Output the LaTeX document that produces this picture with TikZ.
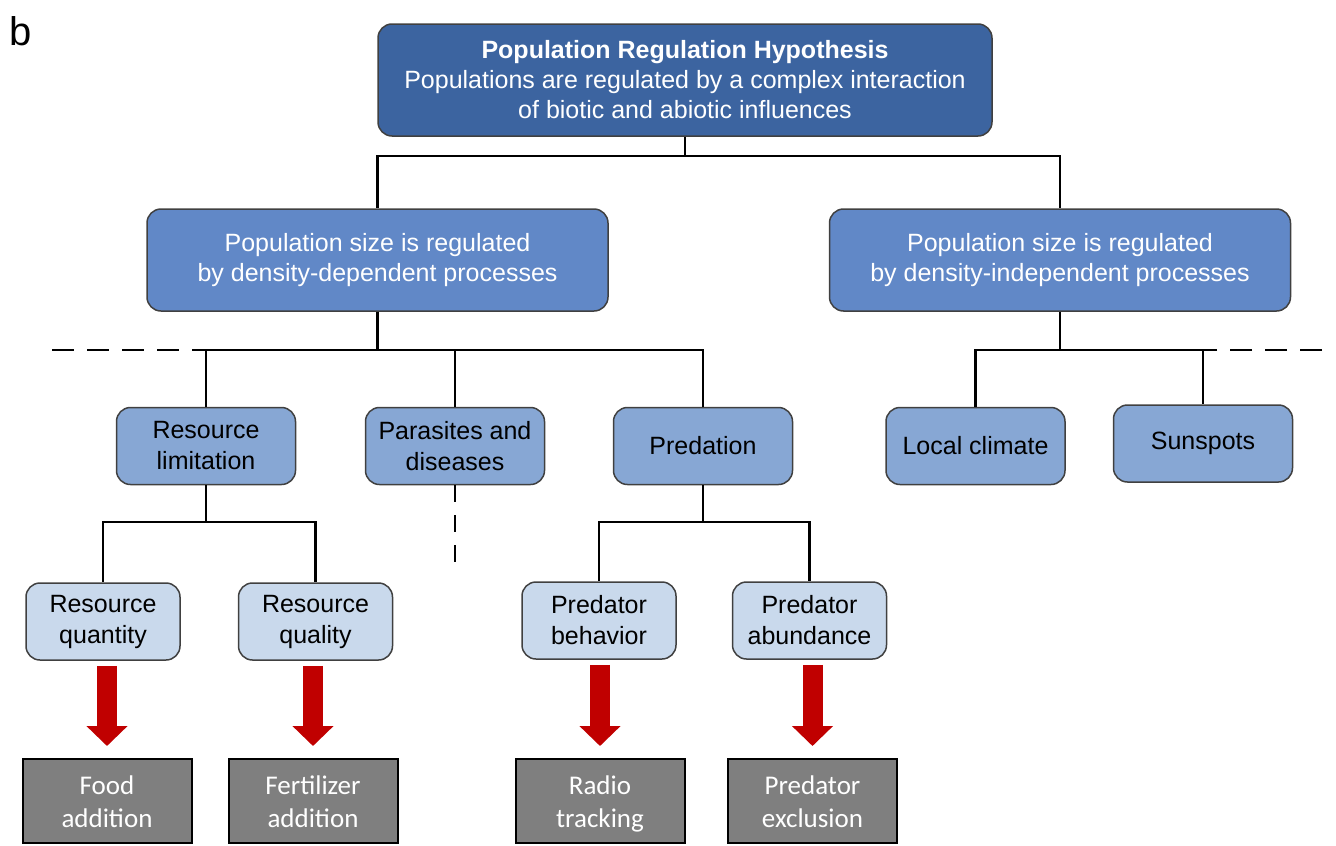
\documentclass[tikz,border=0pt]{standalone}
\usepackage{fontspec}
\setmainfont{Liberation Sans}
\newfontfamily\calibri{Carlito}
\usepackage{xcolor}
\usepackage{tikz}
\usetikzlibrary{arrows.meta}
\usetikzlibrary{positioning}

\definecolor{hypoblue}{HTML}{3C64A0}
\definecolor{procblue}{HTML}{6188C7}
\definecolor{factblue}{HTML}{87A7D4}
\definecolor{subblue}{HTML}{C9D9EC}
\definecolor{testgray}{HTML}{7F7F7F}
\definecolor{arrowred}{HTML}{C00000}

\begin{document}
\begin{tikzpicture}[x=1pt, y=-1pt,
        hypobox/.style={draw=black!75, line width=1.5pt, rounded corners=14pt, fill=hypoblue,
            text=white, align=center, font=\fontsize{25}{30}\selectfont,
            minimum width=614pt, minimum height=112pt, inner sep=0pt},
        procbox/.style={hypobox, fill=procblue, minimum width=461pt, minimum height=102pt},
        factbox/.style={draw=black!75, line width=1.5pt, rounded corners=14pt, fill=factblue,
            align=center, font=\fontsize{25}{31}\selectfont,
            minimum width=179pt, minimum height=77pt, inner sep=0pt},
        subbox/.style={factbox, fill=subblue, minimum width=154pt},
        testbox/.style={draw=black, line width=2pt, fill=testgray, text=white, align=center,
            font=\calibri\fontsize{27}{33}\selectfont,
            minimum width=169pt, minimum height=84pt, inner sep=0pt},
        link/.style={line width=2.5pt},
        dashlink/.style={link, dash pattern=on 22pt off 13pt},
        bigarrow/.style={-{Triangle[length=20pt, width=40pt]}, line width=20pt, arrowred}
    ]
    \useasboundingbox (0,0) rectangle (1336,846);

    % Etiqueta
    \node[font=\fontsize{40}{40}\selectfont] (panel) at (21,31) {b};

    % Hipotesis
    \node[hypobox] (hypo) at (685,80) {\textbf{Population Regulation Hypothesis}\\
        Populations are regulated by a complex interaction\\of biotic and abiotic influences};

    % Procesos
    \node[procbox] (dd) at (377.5,260) {Population size is regulated\\by density-dependent processes};
    \node[procbox] (di) at (1060,260) {Population size is regulated\\by density-independent processes};

    % Factores
    \node[factbox] (reslim) at (206,446) {Resource\\limitation};
    \node[factbox] (parasit) at (455,446) {Parasites and\\diseases};
    \node[factbox] (predat) at (703,446) {Predation};
    \node[factbox] (climate) at (975.5,446) {Local climate};
    \node[factbox] (sunspot) at (1203,443.5) {Sunspots};

    % Subfactores
    \node[subbox] (resqty) at (103,621.5) {Resource\\quantity};
    \node[subbox] (resqlt) at (315.5,621.5) {Resource\\quality};
    \node[subbox] (predbeh) at (599,620.5) {Predator\\behavior};
    \node[subbox] (predabu) at (809.5,620.5) {Predator\\abundance};

    % Experimentos
    \node[testbox] (food) at (107,801) {\rule{0pt}{29pt}Food\\addition\strut};
    \node[testbox] (fert) at (313,801) {\rule{0pt}{29pt}Fertilizer\\addition\strut};
    \node[testbox] (radio) at (600,801) {\rule{0pt}{29pt}Radio\\tracking\strut};
    \node[testbox] (exclus) at (812.5,801) {\rule{0pt}{29pt}Predator\\exclusion\strut};

    % Puntos de union
    \coordinate (j1) at (685,156);
    \coordinate (j2) at (377.5,350);
    \coordinate (j3) at (1060,350);
    \coordinate (j4) at (206,522);
    \coordinate (j5) at (703,522);
    \coordinate (dashL) at (52,350);
    \coordinate (dashR) at (1322,350);
    \coordinate (dashP) at (455,570);

    % Conexiones Hipotesis -> Procesos
    \draw[link] (hypo.south) -- (j1);
    \draw[link] (j1) -| (dd.north);
    \draw[link] (j1) -| (di.north);

    % Conexiones Procesos -> Factores
    \draw[link] (dd.south) -- (j2);
    \draw[link] (j2) -| (reslim.north);
    \draw[link] (j2) -| (parasit.north);
    \draw[link] (j2) -| (predat.north);
    \draw[dashlink] (dashL) -- (reslim.north |- j2);

    \draw[link] (di.south) -- (j3);
    \draw[link] (j3) -| (climate.north);
    \draw[link] (j3) -| (sunspot.north);
    \draw[dashlink] (dashR) -- (sunspot.north |- j3);

    \draw[dashlink, dash pattern=on 17pt off 13pt] (parasit.south) -- (dashP);

    % Conexiones Factores -> Subfactores
    \draw[link] (reslim.south) -- (j4);
    \draw[link] (j4) -| (resqty.north);
    \draw[link] (j4) -| (resqlt.north);

    \draw[link] (predat.south) -- (j5);
    \draw[link] (j5) -| (predbeh.north);
    \draw[link] (j5) -| (predabu.north);

    % Flechas
    \draw[bigarrow] ([yshift=-5pt]food.north |- resqty.south) -- ([yshift=12pt]food.north);
    \draw[bigarrow] ([yshift=-5pt]fert.north |- resqlt.south) -- ([yshift=12pt]fert.north);
    \draw[bigarrow] ([yshift=-5pt]radio.north |- predbeh.south) -- ([yshift=12pt]radio.north);
    \draw[bigarrow] ([yshift=-5pt]exclus.north |- predabu.south) -- ([yshift=12pt]exclus.north);

\end{tikzpicture}
\end{document}
